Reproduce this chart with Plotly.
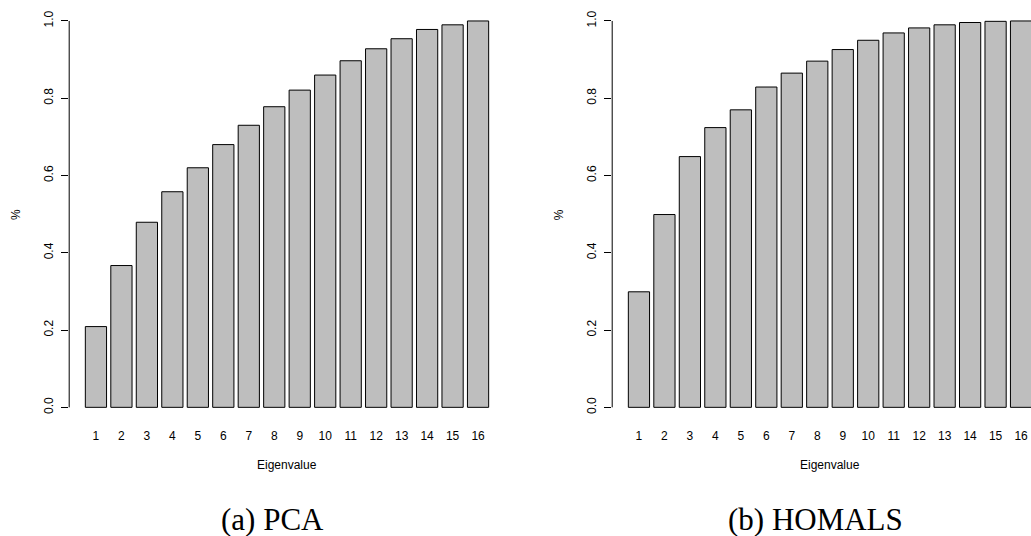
import plotly.graph_objects as go

# Cumulative share of variance explained, per eigenvalue
eigen_labels = [str(i) for i in range(1, 17)]
pca_cumulative = [0.209, 0.367, 0.479, 0.558, 0.620, 0.680, 0.730, 0.778,
                  0.821, 0.860, 0.897, 0.928, 0.954, 0.978, 0.990, 1.000]
homals_cumulative = [0.299, 0.499, 0.649, 0.724, 0.770, 0.829, 0.865, 0.896,
                     0.926, 0.950, 0.969, 0.982, 0.990, 0.996, 0.999, 1.000]
y_ticks = [0.0, 0.2, 0.4, 0.6, 0.8, 1.0]
y_tick_text = ["0.0", "0.2", "0.4", "0.6", "0.8", "1.0"]
captions = ["(a) PCA", "(b) HOMALS"]

W, H = 1031, 536
SANS = "Liberation Sans, Arial, Helvetica, sans-serif"
SERIF = "Liberation Serif, Times New Roman, serif"

fig = go.Figure()

bar_style = dict(marker=dict(color="#BEBEBE", line=dict(color="black", width=1)),
                 showlegend=False, hoverinfo="x+y")
fig.add_trace(go.Bar(x=eigen_labels, y=pca_cumulative, xaxis="x", yaxis="y", **bar_style))
fig.add_trace(go.Bar(x=eigen_labels, y=homals_cumulative, xaxis="x2", yaxis="y2", **bar_style))

# panel placement in pixels
left_px = (69.2, 504.8)
right_px = (612.2, 1031.0)
top_px, bottom_px = 5.5, 422.8

def xdom(p):
    return [p[0] / W, min(p[1] / W, 1.0)]

ydom = [(H - bottom_px) / H, (H - top_px) / H]

xcommon = dict(type="category", showline=False, ticks="", showgrid=False, zeroline=False,
               tickfont=dict(family=SANS, size=12, color="black"), ticklabelstandoff=4)
ycommon = dict(range=[-0.04, 1.04], tickvals=y_ticks, ticktext=y_tick_text, tickangle=-90,
               ticks="outside", ticklen=7, tickwidth=1, tickcolor="black",
               showline=False, showgrid=False, zeroline=False,
               tickfont=dict(family=SANS, size=12, color="black"), ticklabelstandoff=3)

fig.update_layout(
    width=W, height=H,
    margin=dict(l=0, r=0, t=0, b=0),
    paper_bgcolor="white", plot_bgcolor="white",
    bargap=1 - 1 / 1.2,
    xaxis=dict(domain=xdom(left_px), range=[-1.05, 16.05], anchor="y", **xcommon),
    yaxis=dict(domain=ydom, anchor="x", **ycommon),
    xaxis2=dict(domain=xdom(right_px), range=[-1.05, 15.39], anchor="y2", **xcommon),
    yaxis2=dict(domain=ydom, anchor="x2", **ycommon),
)

# y axis lines spanning only the tick range
for xr, yr in (("x domain", "y"), ("x2 domain", "y2")):
    fig.add_shape(type="line", xref=xr, yref=yr, x0=0, x1=0, y0=0, y1=1,
                  line=dict(color="black", width=1))

# per-panel text: axis title centre, "%" position, caption and caption centre
panels = [
    ((69.2 + 504.8) / 2, 16.0, captions[0], 272.0),
    ((612.2 + 1048.0) / 2, 559.3, captions[1], 815.0),
]
annotations = []
for title_x, pct_x, cap, cap_x in panels:
    annotations.append(dict(text="Eigenvalue", xref="paper", yref="paper",
                            x=title_x / W, y=(H - 465) / H, showarrow=False,
                            xanchor="center", yanchor="middle",
                            font=dict(family=SANS, size=12, color="black")))
    annotations.append(dict(text="%", xref="paper", yref="paper", x=pct_x / W, y=(H - 215) / H,
                            textangle=-90, showarrow=False, xanchor="center", yanchor="middle",
                            font=dict(family=SANS, size=12, color="black")))
    annotations.append(dict(text=cap, xref="paper", yref="paper", x=cap_x / W, y=(H - 519) / H,
                            showarrow=False, xanchor="center", yanchor="middle",
                            font=dict(family=SERIF, size=31, color="black")))
fig.update_layout(annotations=annotations)

fig.write_html("out.html")
